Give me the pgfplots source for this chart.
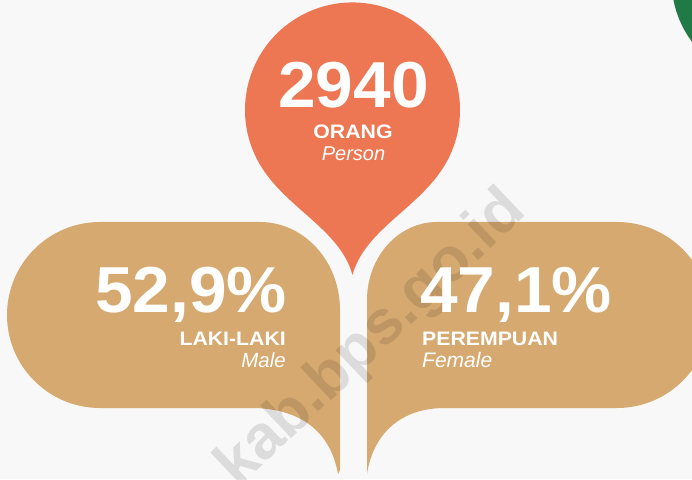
\documentclass[border=0pt]{standalone}
\usepackage{pgfplots}
\pgfplotsset{compat=1.18}
\usepackage{fontspec}
\setmainfont{Liberation Sans}
\newfontfamily\bigfont[FakeStretch=1.04]{Liberation Sans}
\newfontfamily\labfont[FakeStretch=1.09]{Liberation Sans}
\definecolor{bg}{HTML}{F8F8F8}
\definecolor{pinorange}{HTML}{EC7752}
\definecolor{tan}{HTML}{D6A970}
\definecolor{deepgreen}{HTML}{1F7A45}
\begin{document}
\begin{tikzpicture}
\begin{axis}[
  width=692pt, height=479pt, scale only axis,
  xmin=0, xmax=692, ymin=0, ymax=479,
  hide axis, clip=true,
  every node near coord/.append style={text=white, font=\bigfont\bfseries\fontsize{65}{65}\selectfont, inner sep=0pt},
]
\begin{scope}
\clip (axis cs:0,0) rectangle (axis cs:692,479);
\fill[bg] (axis cs:0,0) rectangle (axis cs:692,479);
% green arc (top right)
\fill[deepgreen] (axis cs:775,499) circle[radius=103.5];
% orange pin
\fill[pinorange] (axis cs:259.4,315.3) arc[start angle=210, end angle=-30, radius=107.5]
  .. controls (axis cs:420,271) and (axis cs:365,250) .. (axis cs:352.5,204)
  .. controls (axis cs:340,250) and (axis cs:285,271) .. (axis cs:259.4,315.3) -- cycle;
% left bubble
\fill[tan] (axis cs:100,257) -- (axis cs:260,257)
  arc[start angle=90, end angle=0, x radius=80, y radius=88]
  -- (axis cs:340,9) -- (axis cs:338,5)
  .. controls (axis cs:332,39) and (axis cs:310,69) .. (axis cs:255,71)
  -- (axis cs:100,71)
  arc[start angle=270, end angle=90, radius=93] -- cycle;
% right bubble
\fill[tan] (axis cs:367,5) -- (axis cs:367,179)
  arc[start angle=180, end angle=90, x radius=70, y radius=78]
  -- (axis cs:617,257)
  arc[start angle=90, end angle=-90, radius=93]
  -- (axis cs:445,71)
  .. controls (axis cs:395,71) and (axis cs:372,39) .. (axis cs:367,5) -- cycle;
% watermark
\node[rotate=43.5, anchor=base, text=black, text opacity=0.11, inner sep=0pt,
  font=\bfseries\fontsize{62}{62}\selectfont] at (axis cs:383,128) {kab.bps.go.id};
\end{scope}
% values
\addplot[draw=none, mark=none, nodes near coords, point meta=explicit symbolic,
  every node near coord/.append style={anchor=base}] coordinates {(353.5,371) [2940]};
\addplot[draw=none, mark=none, nodes near coords, point meta=explicit symbolic,
  every node near coord/.append style={anchor=base east}] coordinates {(287,166) [52,9\%]};
\addplot[draw=none, mark=none, nodes near coords, point meta=explicit symbolic,
  every node near coord/.append style={anchor=base west}] coordinates {(420,166) [47,1\%]};
% labels
\node[anchor=base, text=white, inner sep=0pt, font=\labfont\bfseries\fontsize{19.5}{19.5}\selectfont] at (axis cs:353,340) {ORANG};
\node[anchor=base, text=white, inner sep=0pt, font=\itshape\fontsize{20}{20}\selectfont] at (axis cs:353.5,318) {Person};
\node[anchor=base east, text=white, inner sep=0pt, font=\labfont\bfseries\fontsize{19.5}{19.5}\selectfont] at (axis cs:286,134) {LAKI-LAKI};
\node[anchor=base east, text=white, inner sep=0pt, font=\itshape\fontsize{20.5}{20.5}\selectfont] at (axis cs:286,112) {Male};
\node[anchor=base west, text=white, inner sep=0pt, font=\labfont\bfseries\fontsize{19.5}{19.5}\selectfont] at (axis cs:422,134) {PEREMPUAN};
\node[anchor=base west, text=white, inner sep=0pt, font=\itshape\fontsize{21}{21}\selectfont] at (axis cs:422,112) {Female};
\end{axis}
\end{tikzpicture}
\end{document}
